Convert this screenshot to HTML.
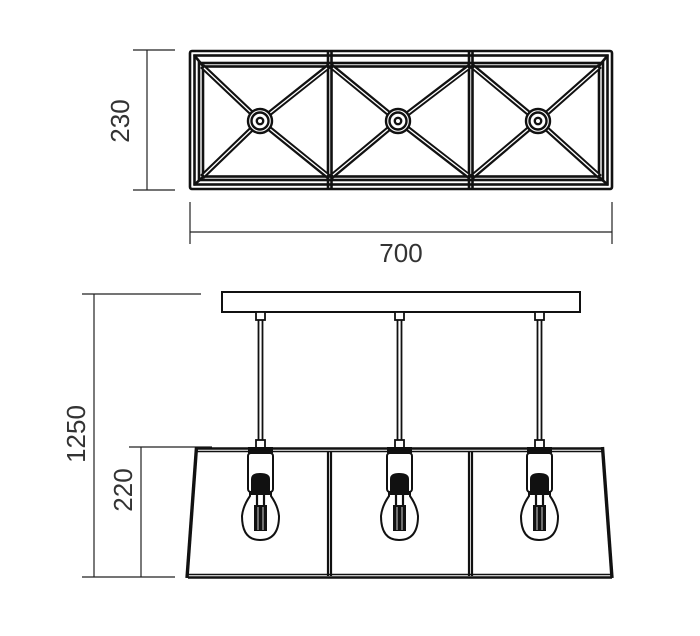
<!DOCTYPE html>
<html><head><style>html,body{margin:0;padding:0;background:#fff}svg{display:block}text{font-family:"Liberation Sans",sans-serif;font-size:26px;fill:#333}</style></head><body>
<svg width="700" height="636" viewBox="0 0 700 636" xmlns="http://www.w3.org/2000/svg">
<g stroke="#222" stroke-width="1.2" fill="none">
<line x1="147" y1="50" x2="147" y2="190"/><line x1="133" y1="50" x2="175" y2="50"/><line x1="133" y1="190" x2="175" y2="190"/>
<line x1="190" y1="232" x2="612" y2="232"/><line x1="190" y1="202" x2="190" y2="244"/><line x1="612" y1="202" x2="612" y2="244"/>
<line x1="94" y1="294" x2="94" y2="577"/><line x1="82" y1="294" x2="201" y2="294"/><line x1="82" y1="577" x2="175" y2="577"/>
<line x1="141" y1="447" x2="141" y2="577"/><line x1="129" y1="447" x2="212" y2="447"/>
</g>
<text transform="translate(129,121) rotate(-90)" text-anchor="middle">230</text>
<text x="401" y="262" text-anchor="middle">700</text>
<text transform="translate(85,434) rotate(-90)" text-anchor="middle">1250</text>
<text transform="translate(132,490) rotate(-90)" text-anchor="middle">220</text>
<g stroke="#111" stroke-width="2.6" fill="none">
<rect x="190" y="51" width="422" height="138" rx="2"/>
<rect x="194.5" y="55.5" width="413" height="129"/>
<rect x="199" y="63" width="404" height="117"/>
<rect x="203" y="66.5" width="396" height="110"/>
<line x1="194" y1="55" x2="203" y2="66"/><line x1="608" y1="55" x2="599" y2="66"/>
<line x1="194" y1="185" x2="203" y2="177"/><line x1="608" y1="185" x2="599" y2="177"/>
<line x1="328" y1="51" x2="328" y2="189"/><line x1="331.5" y1="51" x2="331.5" y2="189"/>
<line x1="469" y1="51" x2="469" y2="189"/><line x1="472.5" y1="51" x2="472.5" y2="189"/>
</g>
<g stroke="#111" stroke-width="5.5" fill="none">
<path d="M202 66 L260 121 L329 66 M202 177 L260 121 L329 177 M331 66 L398 121 L470 66 M331 177 L398 121 L470 177 M472 66 L538 121 L600 66 M472 177 L538 121 L600 177"/>
</g>
<g stroke="#fff" stroke-width="1.3" fill="none">
<path d="M204 68 L260 121 L327 68 M204 175 L260 121 L327 175 M333 68 L398 121 L468 68 M333 175 L398 121 L468 175 M474 68 L538 121 L598 68 M474 175 L538 121 L598 175"/>
</g>
<g fill="#fff" stroke="#111" stroke-width="2.4">
<circle cx="260" cy="121" r="12"/><circle cx="260" cy="121" r="8.5"/><circle cx="260" cy="121" r="3.2"/>
<circle cx="398" cy="121" r="12"/><circle cx="398" cy="121" r="8.5"/><circle cx="398" cy="121" r="3.2"/>
<circle cx="538" cy="121" r="12"/><circle cx="538" cy="121" r="8.5"/><circle cx="538" cy="121" r="3.2"/>
</g>
<g stroke="#111" stroke-width="2" fill="none">
<rect x="222" y="292" width="358" height="20"/>
</g>
<g id="pend">
<rect x="256" y="312" width="9" height="8" fill="#fff" stroke="#111" stroke-width="1.8"/>
<line x1="258.5" y1="320" x2="258.5" y2="440" stroke="#111" stroke-width="1.8"/>
<line x1="262.5" y1="320" x2="262.5" y2="440" stroke="#111" stroke-width="1.8"/>
<rect x="256" y="440" width="9" height="8" fill="#fff" stroke="#111" stroke-width="1.8"/>
<rect x="248" y="447" width="25" height="6" fill="#111"/>
<rect x="248" y="453" width="25" height="39" rx="3" fill="#fff" stroke="#111" stroke-width="2"/>
<path d="M251 491 L251 479 Q251 473 260 473 Q270 473 270 479 L270 491 Z" fill="#111"/>
<path d="M250 491 L250 496 Q243 506 242 516 Q242 540 260 540 Q279 540 279 516 Q278 506 271 496 L271 491" fill="#fff" stroke="#111" stroke-width="2"/>
<rect x="251" y="490" width="19" height="5" fill="#111"/>
<line x1="257" y1="495" x2="257" y2="505" stroke="#111" stroke-width="2.2"/>
<line x1="264" y1="495" x2="264" y2="505" stroke="#111" stroke-width="2.2"/>
<rect x="254" y="505" width="13" height="26" fill="#111"/>
<line x1="258" y1="507" x2="258" y2="530" stroke="#fff" stroke-width="0.8"/>
<line x1="263" y1="507" x2="263" y2="530" stroke="#fff" stroke-width="0.8"/>
</g>
<use href="#pend" x="139"/>
<use href="#pend" x="279"/>
<g stroke="#111" fill="none">
<line x1="197" y1="448.5" x2="603" y2="448.5" stroke-width="2.6"/>
<line x1="197" y1="451.5" x2="603" y2="451.5" stroke-width="1.4"/>
<line x1="188" y1="574.5" x2="612" y2="574.5" stroke-width="1.4"/>
<line x1="188" y1="577.5" x2="612" y2="577.5" stroke-width="2.6"/>
<path d="M196.5 447 L187 578" stroke-width="3.4"/>
<path d="M602.5 447 L612 578" stroke-width="3.4"/>
<line x1="328" y1="451" x2="328" y2="576" stroke-width="2.2"/><line x1="331" y1="451" x2="331" y2="576" stroke-width="2.2"/>
<line x1="469" y1="451" x2="469" y2="576" stroke-width="2.2"/><line x1="472" y1="451" x2="472" y2="576" stroke-width="2.2"/>
</g>
</svg>
</body></html>
